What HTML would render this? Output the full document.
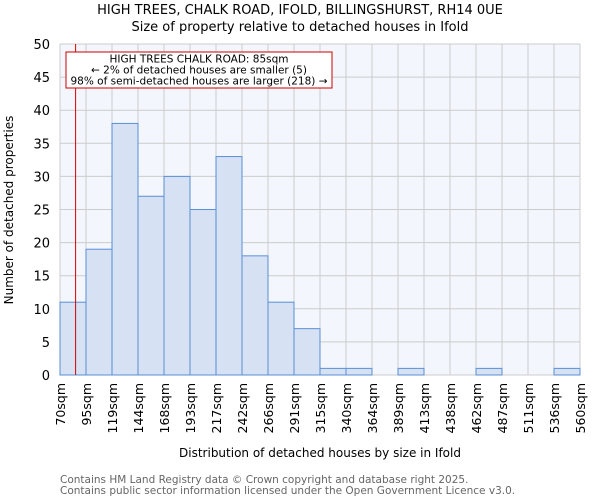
<!DOCTYPE html>
<html><head><meta charset="utf-8"><style>
body{margin:0;background:#fff;font-family:"DejaVu Sans","Liberation Sans",sans-serif;}
svg text{font-family:"DejaVu Sans","Liberation Sans",sans-serif;}
</style></head><body>
<svg id="chart" width="600" height="500">
<text x="300" y="14" text-anchor="middle" font-size="13">HIGH TREES, CHALK ROAD, IFOLD, BILLINGSHURST, RH14 0UE</text>
<text x="300" y="31" text-anchor="middle" font-size="13">Size of property relative to detached houses in Ifold</text>
<rect x="60" y="44" width="520" height="331" fill="#f3f6fc"/>
<g id="grid"></g><g id="bars"></g><g id="axes"></g>
<text transform="translate(13,210) rotate(-90)" text-anchor="middle" font-size="12">Number of detached properties</text>
<text x="320" y="457" text-anchor="middle" font-size="12">Distribution of detached houses by size in Ifold</text>
<text x="60" y="483" font-size="10.5" fill="#666">Contains HM Land Registry data © Crown copyright and database right 2025.</text>
<text x="60" y="494" font-size="10.5" fill="#666">Contains public sector information licensed under the Open Government Licence v3.0.</text>
</svg>
<script>
const binLabels=["70sqm","95sqm","119sqm","144sqm","168sqm","193sqm","217sqm","242sqm","266sqm","291sqm","315sqm","340sqm","364sqm","389sqm","413sqm","438sqm","462sqm","487sqm","511sqm","536sqm","560sqm"];
const binEdges=[70,95,119,144,168,193,217,242,266,291,315,340,364,389,413,438,462,487,511,536,560];
const counts=[11,19,38,27,30,25,33,18,11,7,1,1,0,1,0,0,1,0,0,1];
const yTicks=[0,5,10,15,20,25,30,35,40,45,50];
const propertySize=85;
const NS="http://www.w3.org/2000/svg";
const L=60,R=580,T=44,B=375;
const nb=counts.length;
function xi(i){return L+(R-L)*i/nb;}
function xv(v){let i=0;while(i<binEdges.length-2&&v>binEdges[i+1])i++;return xi(i)+(v-binEdges[i])/(binEdges[i+1]-binEdges[i])*(R-L)/nb;}
function y(v){return B-(B-T)*v/50;}
function mk(p,tag,a){const e=document.createElementNS(NS,tag);for(const k in a)e.setAttribute(k,a[k]);p.appendChild(e);return e;}
const g=document.getElementById('grid'),b=document.getElementById('bars'),ax=document.getElementById('axes');
yTicks.forEach(t=>{const l=mk(g,'line',{x1:L,x2:R,y1:y(t),y2:y(t),stroke:'#cccccc'});


const tx=mk(ax,'text',{x:L-10,y:y(t)+5,'text-anchor':'end','font-size':13});tx.textContent=t;

});
binLabels.forEach((s,i)=>{const l=mk(g,'line',{x1:xi(i),x2:xi(i),y1:T,y2:B,stroke:'#cccccc'});


const tx=mk(ax,'text',{transform:`translate(${xi(i)+5},${B+8}) rotate(-90)`,'text-anchor':'end','font-size':12.5});tx.textContent=s;

});
counts.forEach((c,i)=>{if(c<=0)return;const r=mk(b,'rect',{x:xi(i),y:y(c),width:(R-L)/nb,height:B-y(c),fill:'#d6e1f3',stroke:'#5b8fd6','stroke-width':1});

});
const px=xv(propertySize);
const ml=mk(ax,'line',{x1:px,x2:px,y1:T,y2:B,stroke:'#dd0000','stroke-width':1});


const box=mk(ax,'rect',{x:66,y:52,width:266,height:36,fill:'#fff',stroke:'#cc0000'});


["HIGH TREES CHALK ROAD: 85sqm","← 2% of detached houses are smaller (5)","98% of semi-detached houses are larger (218) →"].forEach((s,i)=>{const t=mk(ax,'text',{x:199,y:62.5+i*11,'text-anchor':'middle','font-size':10.5});t.textContent=s;

});
</script>
</body></html>
